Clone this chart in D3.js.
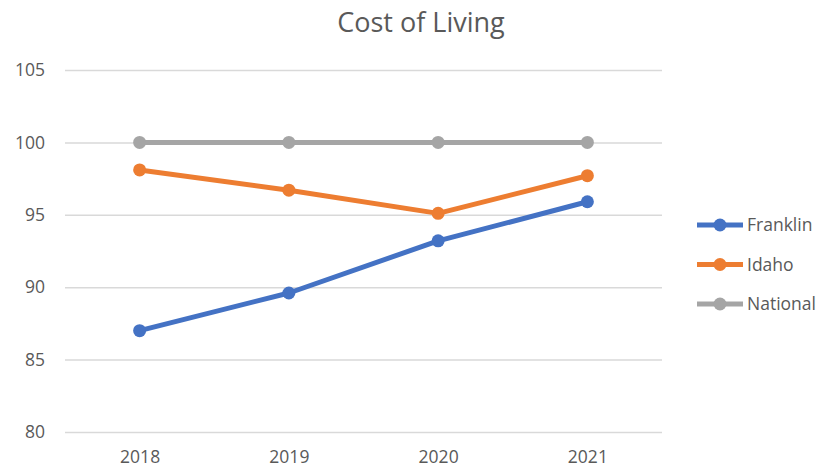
<!DOCTYPE html>
<html>
<head>
<meta charset="utf-8">
<script src="https://cdn.jsdelivr.net/npm/d3@7"></script>
<style>
  body { margin: 0; background: #fff; }
  svg text { font-family: "Open Sans", "Noto Sans", sans-serif; fill: #595959; }
</style>
</head>
<body>
<svg id="chart" width="830" height="470"></svg>
<script>
const years = ["2018", "2019", "2020", "2021"];
const seriesNames = ["Franklin", "Idaho", "National"];
const franklin = [87.0, 89.6, 93.2, 95.9];
const idaho = [98.1, 96.7, 95.1, 97.7];
const national = [100, 100, 100, 100];
const yTicks = [80, 85, 90, 95, 100, 105];
const colors = ["#4472C4", "#ED7D31", "#A5A5A5"];

const series = [franklin, idaho, national].map((vals, i) => ({
  name: seriesNames[i],
  color: colors[i],
  points: vals.map((v, j) => ({year: years[j], value: v}))
}));

const svg = d3.select("#chart");

const x = d3.scalePoint()
  .domain(years)
  .range([65, 662])
  .padding(0.5);

const y = d3.scaleLinear()
  .domain([80, 105])
  .range([432, 70]);

// title
svg.append("text")
  .attr("x", 421)
  .attr("y", 32)
  .attr("text-anchor", "middle")
  .attr("font-size", 27)
  .text("Cost of Living");

// gridlines + y labels
const yAxis = d3.axisLeft(y)
  .tickValues(yTicks)
  .tickSize(-597)
  .tickPadding(20);

svg.append("g")
  .attr("transform", "translate(65,0)")
  .call(yAxis)
  .call(g => g.select(".domain").remove())
  .call(g => g.selectAll(".tick line").attr("stroke", "#d9d9d9").attr("stroke-width", 1.5))
  .call(g => g.selectAll(".tick text")
    .attr("font-size", 17.5)
    .attr("text-anchor", "end")
    .attr("x", -20)
    .style("fill", "#595959"));

// x labels
const xAxis = d3.axisBottom(x).tickSize(0).tickPadding(19);
svg.append("g")
  .attr("transform", "translate(0,432)")
  .call(xAxis)
  .call(g => g.select(".domain").remove())
  .call(g => g.selectAll(".tick text").attr("font-size", 17.5).style("fill", "#595959"));

const line = d3.line()
  .x(d => x(d.year))
  .y(d => y(d.value));

// draw National first so it's behind, then Idaho, then Franklin
const order = [2, 1, 0];
order.forEach(i => {
  const s = series[i];
  const g = svg.append("g");
  g.append("path")
    .datum(s.points)
    .attr("fill", "none")
    .attr("stroke", s.color)
    .attr("stroke-width", 5)
    .attr("stroke-linejoin", "round")
    .attr("d", line);
  g.selectAll("circle")
    .data(s.points)
    .join("circle")
    .attr("cx", d => x(d.year))
    .attr("cy", d => y(d.value))
    .attr("r", 6.5)
    .attr("fill", s.color);
});

// legend
const legend = svg.append("g")
  .selectAll("g")
  .data(series)
  .join("g")
  .attr("transform", (d, i) => `translate(697,${225 + i * 39.5})`);

legend.append("line")
  .attr("x1", 0).attr("x2", 46)
  .attr("stroke", d => d.color)
  .attr("stroke-width", 5);
legend.append("circle")
  .attr("cx", 23)
  .attr("r", 6.5)
  .attr("fill", d => d.color);
legend.append("text")
  .attr("x", 50)
  .attr("dy", "0.35em")
  .attr("font-size", 17.5)
  .text(d => d.name);
</script>
</body>
</html>
